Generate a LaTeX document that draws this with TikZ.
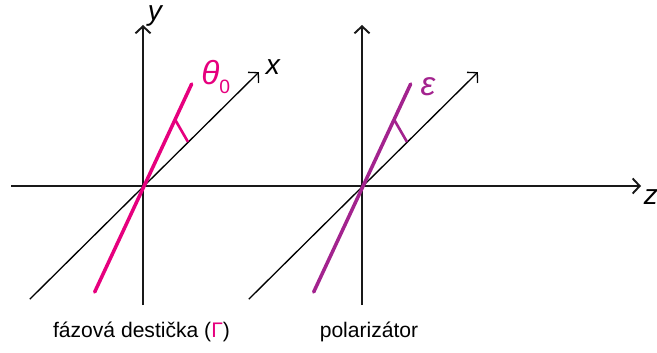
\documentclass[tikz,border=0pt]{standalone}
\usepackage{fontspec}
\setmainfont{Liberation Sans}
\usepackage{xcolor}
\usetikzlibrary{arrows.meta, calc}
\definecolor{platecol}{HTML}{E6007E}
\definecolor{polcol}{HTML}{A3238E}

\begin{document}
\begin{tikzpicture}[
  axis/.style={line width=1.1pt, black!90, -{Straight Barb[length=1.4mm, width=3mm]}},
  diag/.style={line width=0.75pt, black, -{Straight Barb[length=1.4mm, width=3mm]}},
  optic/.style={line width=2pt, line cap=round},
  anglemark/.style={line width=1.5pt},
  lbl/.style={font=\fontsize{12}{14}\selectfont},
  axlbl/.style={font=\fontsize{16}{18}\selectfont\itshape, inner sep=0pt},
  grklbl/.style={font=\fontsize{19}{21}\selectfont\itshape, inner sep=0pt}
]
\useasboundingbox (0,0) rectangle (13.14,7.04);

% origins of the two elements
\coordinate (o1) at (2.86,3.32);
\coordinate (o2) at (7.24,3.32);

% z axis
\coordinate (zs) at (0.22,3.32);
\coordinate (ze) at (12.82,3.32);
\draw[axis] (zs) -- (ze);
\node[axlbl] (zl) at (13.02,3.1) {z};

% phase plate
\coordinate (y1s) at ($(o1)+(0,-2.38)$);
\coordinate (y1e) at ($(o1)+(0,3.22)$);
\coordinate (x1s) at ($(o1)+(225:3.2)$);
\coordinate (x1e) at ($(o1)+(44.5:3.25)$);
\coordinate (p1s) at ($(o1)+(245.5:2.33)$);
\coordinate (p1e) at ($(o1)+(64.5:2.26)$);
\draw[axis] (y1s) -- (y1e);
\draw[diag] (x1s) -- (x1e);
\draw[optic, platecol] (p1s) -- (p1e);
\coordinate (a1s) at ($(o1)+(64.5:1.48)$);
\coordinate (a1e) at ($(o1)+(44.5:1.26)$);
\draw[anglemark, platecol] (a1s) -- (a1e);
\node[axlbl] (yl) at (3.1,6.72) {y};
\node[axlbl] (xl) at (5.46,5.7) {x};
\node[grklbl, text=platecol, anchor=west] (tl) at (4.02,5.5)
  {θ\raisebox{-0.5ex}{\upshape\fontsize{11}{12}\selectfont 0}};
\node[lbl] (plate) at (2.83,0.4) {fázová destička ({\color{platecol}Γ})};

% polarizer
\coordinate (y2s) at ($(o2)+(0,-2.38)$);
\coordinate (y2e) at ($(o2)+(0,3.22)$);
\coordinate (x2s) at ($(o2)+(225:3.2)$);
\coordinate (x2e) at ($(o2)+(44.5:3.25)$);
\coordinate (p2s) at ($(o2)+(245.5:2.33)$);
\coordinate (p2e) at ($(o2)+(64.5:2.26)$);
\draw[axis] (y2s) -- (y2e);
\draw[diag] (x2s) -- (x2e);
\draw[optic, polcol] (p2s) -- (p2e);
\coordinate (a2s) at ($(o2)+(64.5:1.48)$);
\coordinate (a2e) at ($(o2)+(44.5:1.26)$);
\draw[anglemark, polcol] (a2s) -- (a2e);
\node[grklbl, text=polcol] (el) at (8.56,5.3) {ε};
\node[lbl] (pol) at (7.38,0.4) {polarizátor};
\end{tikzpicture}
\end{document}
